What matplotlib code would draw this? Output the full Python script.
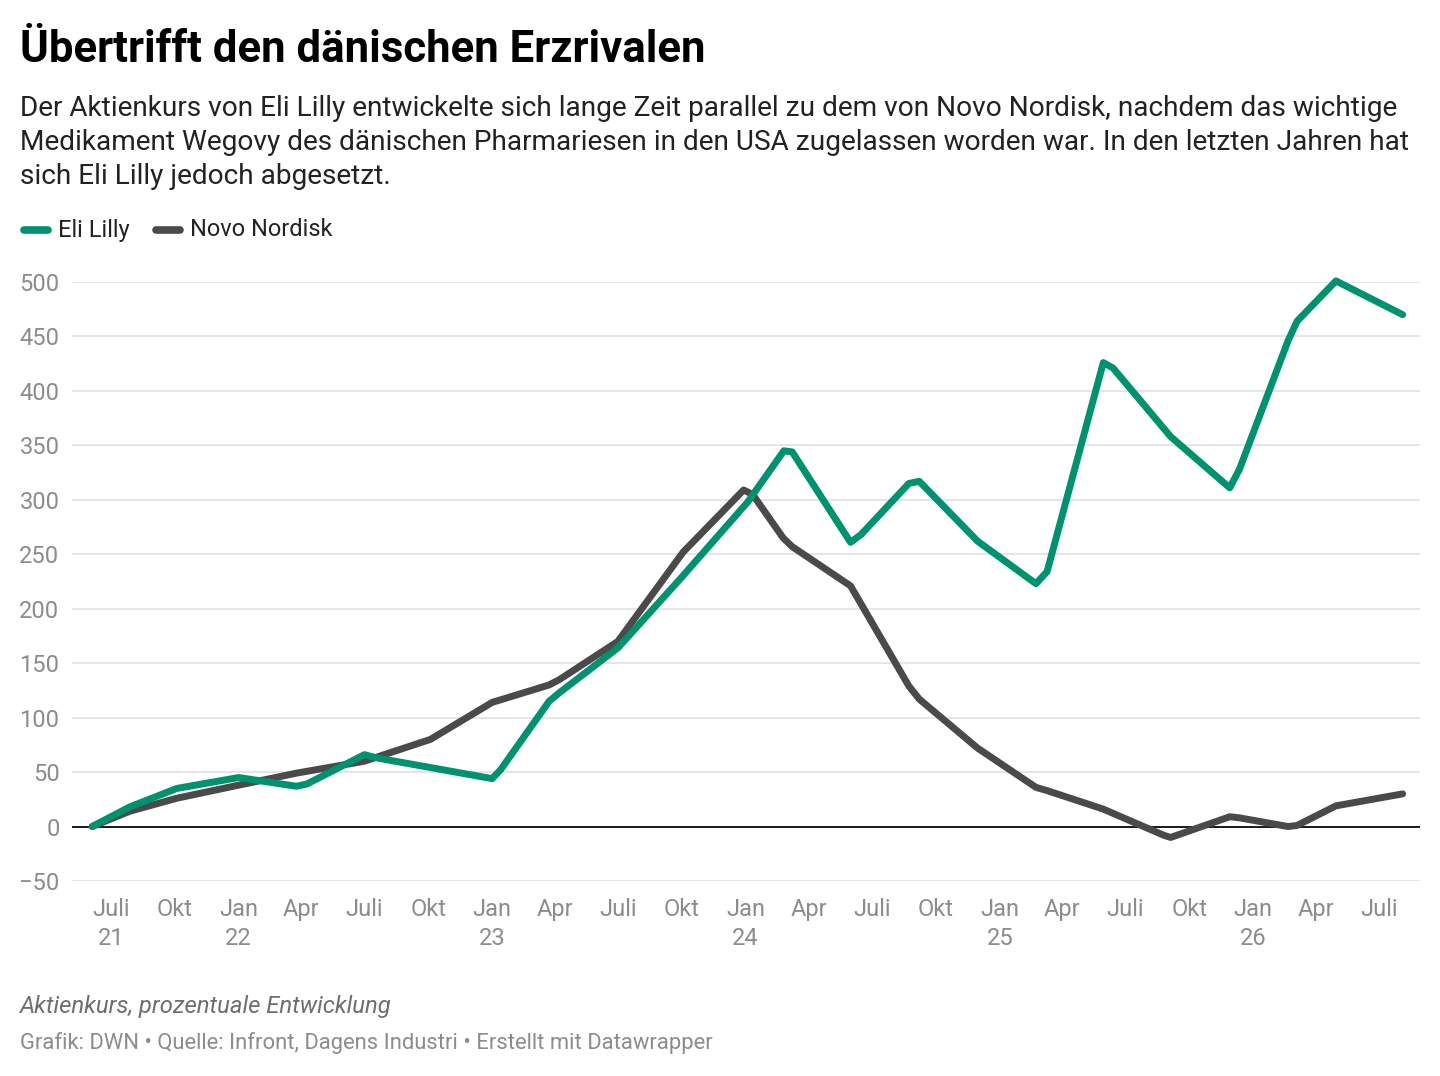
import matplotlib
matplotlib.use('Agg')
import matplotlib.pyplot as plt
from matplotlib.lines import Line2D
import pandas as pd

plt.rcParams['font.family'] = ['Roboto', 'DejaVu Sans']

# Eli Lilly, prozentuale Entwicklung
lilly_dates = ['2021-06-04', '2021-07-28', '2021-10-04', '2022-01-01', '2022-03-25', '2022-04-09',
               '2022-07-01', '2022-07-19', '2023-01-01', '2023-01-13', '2023-03-24', '2023-04-08',
               '2023-07-01', '2023-10-01', '2024-01-04', '2024-02-25', '2024-03-08', '2024-05-31',
               '2024-06-15', '2024-08-23', '2024-09-07', '2024-11-30', '2025-02-22', '2025-03-10',
               '2025-05-30', '2025-06-13', '2025-09-04', '2025-11-28', '2025-12-12', '2026-02-20',
               '2026-03-05', '2026-04-30', '2026-08-04']
lilly_vals = [0, 18, 35, 45, 37, 39,
              66, 63, 44, 52, 115, 123,
              164, 229, 298, 345, 344, 261,
              268, 315, 317, 262, 223, 234,
              426, 421, 358, 311, 328, 446,
              464, 501, 470]

# Novo Nordisk
novo_dates = ['2021-06-04', '2021-07-28', '2021-10-04', '2022-01-01', '2022-03-25', '2022-07-01',
              '2022-10-04', '2023-01-01', '2023-03-24', '2023-04-08', '2023-07-01', '2023-10-03',
              '2023-12-29', '2024-01-11', '2024-02-24', '2024-03-08', '2024-05-31', '2024-08-23',
              '2024-09-07', '2024-11-30', '2025-02-22', '2025-03-10', '2025-05-30', '2025-08-25',
              '2025-09-04', '2025-11-28', '2025-12-12', '2026-02-20', '2026-03-05', '2026-04-30',
              '2026-08-04']
novo_vals = [0, 14, 26, 38, 49, 60,
             80, 114, 130, 135, 170, 252,
             309, 305, 265, 257, 221, 129,
             117, 72, 36, 33, 16, -8,
             -10, 9, 8, 0, 1, 19,
             30]

tick_dates = pd.date_range('2021-07-01', '2026-07-01', freq='QS-JAN')
month_names = {1: 'Jan', 4: 'Apr', 7: 'Juli', 10: 'Okt'}
tick_labels = []
for i, d in enumerate(tick_dates):
    lab = month_names[d.month]
    if i == 0 or d.month == 1:
        lab += '\n' + str(d.year)[2:]
    tick_labels.append(lab)

y_ticks = list(range(-50, 501, 50))

subtitle = ['Der Aktienkurs von Eli Lilly entwickelte sich lange Zeit parallel zu dem von Novo Nordisk, nachdem das wichtige',
            'Medikament Wegovy des dänischen Pharmariesen in den USA zugelassen worden war. In den letzten Jahren hat',
            'sich Eli Lilly jedoch abgesetzt.']

green = '#00916f'
dark = '#4a4a4a'
grey_txt = '#8c8c8c'

fig = plt.figure(figsize=(14.4, 10.76), dpi=100)
ax = fig.add_axes([72/1440, 1-881/1076, (1420-72)/1440, (881-282)/1076])

ax.plot(pd.to_datetime(lilly_dates), lilly_vals, color=green, lw=5,
        solid_capstyle='round', solid_joinstyle='round', clip_on=False, zorder=4)
ax.plot(pd.to_datetime(novo_dates), novo_vals, color=dark, lw=5,
        solid_capstyle='round', solid_joinstyle='round', clip_on=False, zorder=3)

ax.set_xlim(pd.Timestamp('2021-05-06'), pd.Timestamp('2026-08-29'))
ax.set_ylim(-50, 500)
ax.set_yticks(y_ticks)
ax.set_yticklabels([str(v).replace('-', '\u2212') for v in y_ticks])
ax.set_xticks(tick_dates)
ax.set_xticklabels(tick_labels, linespacing=1.35)

ax.grid(axis='y', color='#e3e3e3', lw=1.3)
ax.axhline(0, color='#1a1a1a', lw=1.4, zorder=2)
for s in ax.spines.values():
    s.set_visible(False)
ax.tick_params(axis='both', length=0, labelsize=17, labelcolor=grey_txt)
ax.tick_params(axis='y', pad=9)
ax.tick_params(axis='x', pad=12)

# Titel und Untertitel
fig.text(20/1440, 1-62/1076, 'Übertrifft den dänischen Erzrivalen', fontsize=31.5,
         fontweight='bold', va='baseline', ha='left', color='#000000')
for i, line in enumerate(subtitle):
    fig.text(20/1440, 1-(116 + 34*i)/1076, line, fontsize=20.2, va='baseline', ha='left',
             color='#222222')

# Legende
fig.add_artist(Line2D([24/1440, 48/1440], [1-230/1076, 1-230/1076], color=green, lw=5.5,
                      solid_capstyle='round'))
fig.text(58/1440, 1-230/1076, 'Eli Lilly', fontsize=17, va='center', ha='left', color='#222222')
fig.add_artist(Line2D([156/1440, 180/1440], [1-230/1076, 1-230/1076], color=dark, lw=5.5,
                      solid_capstyle='round'))
fig.text(190/1440, 1-230/1076, 'Novo Nordisk', fontsize=17, va='center', ha='left', color='#222222')

# Fußzeile
fig.text(20/1440, 1-1006/1076, 'Aktienkurs, prozentuale Entwicklung', fontsize=17.2, style='italic',
         va='center', ha='left', color='#6e6e6e')
fig.text(20/1440, 1-1043/1076,
         'Grafik: DWN \u2022 Quelle: Infront, Dagens Industri \u2022 Erstellt mit Datawrapper',
         fontsize=15.8, va='center', ha='left', color='#8c8c8c')

fig.savefig('out.png', dpi=100, facecolor='white')
